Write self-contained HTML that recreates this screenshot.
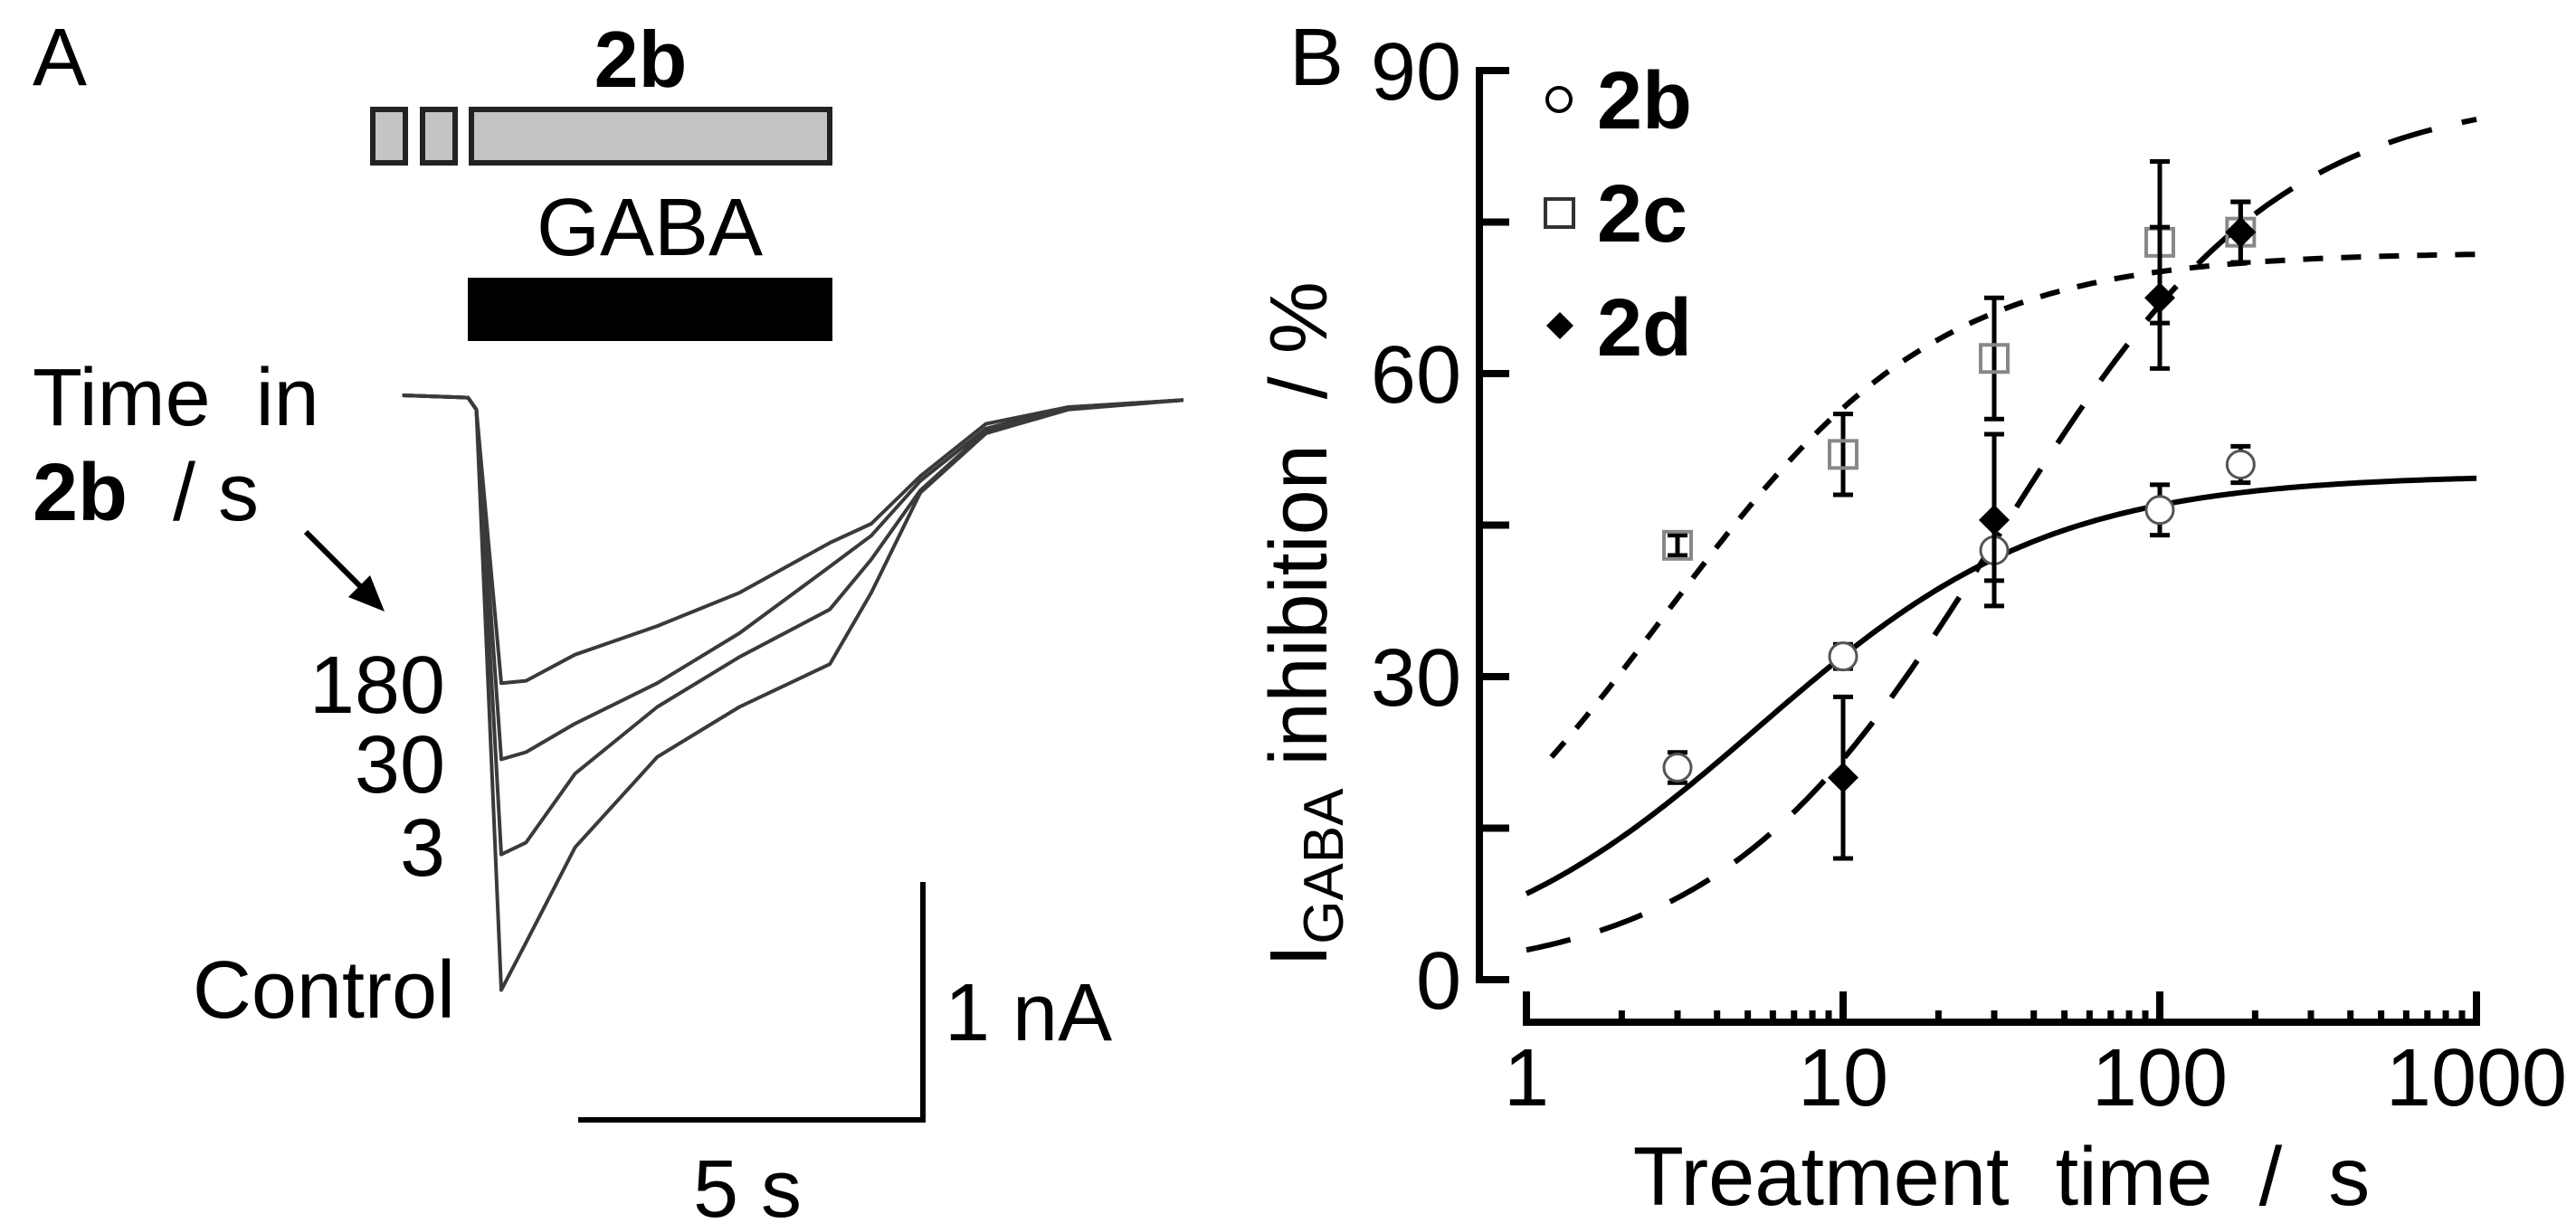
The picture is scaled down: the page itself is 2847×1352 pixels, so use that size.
<!DOCTYPE html>
<html><head><meta charset="utf-8"><style>
html,body{margin:0;padding:0;background:#fff;}
svg{display:block;font-family:"Liberation Sans",Arial,sans-serif;}
</style></head><body>
<svg id="fig" width="2847" height="1352" viewBox="0 0 2847 1352" xmlns="http://www.w3.org/2000/svg">
<!-- Panel A -->
<g>
<text x="36" y="94" font-size="90">A</text>
<text x="708" y="96" font-size="88" font-weight="bold" text-anchor="middle">2b</text>
<rect x="412" y="121" width="36" height="59" fill="#c4c4c4" stroke="#222" stroke-width="6"/>
<rect x="467" y="121" width="36" height="59" fill="#c4c4c4" stroke="#222" stroke-width="6"/>
<rect x="521" y="121" width="396" height="59" fill="#c4c4c4" stroke="#222" stroke-width="6"/>
<text x="718" y="282" font-size="90" text-anchor="middle">GABA</text>
<rect x="517" y="307" width="403" height="70" fill="#000"/>
<text x="36" y="470" font-size="90">Time&#160;&#160;in</text>
<text x="36" y="575" font-size="90"><tspan font-weight="bold">2b</tspan>&#160;&#160;/&#160;s</text>
<line x1="338" y1="588" x2="410" y2="660" stroke="#000" stroke-width="6"/>
<polygon points="425,676 385,660 409,636" fill="#000"/>
<text x="492" y="788" font-size="90" text-anchor="end">180</text>
<text x="492" y="876" font-size="90" text-anchor="end">30</text>
<text x="492" y="968" font-size="90" text-anchor="end">3</text>
<text x="503" y="1125" font-size="90" text-anchor="end">Control</text>
<g id="traces"></g>
<polyline points="1020,975 1020,1238 639,1238" fill="none" stroke="#000" stroke-width="6"/>
<text x="1044" y="1150" font-size="90">1 nA</text>
<text x="826" y="1345" font-size="90" text-anchor="middle">5 s</text>
</g>
<!-- Panel B -->
<g>
<text x="1425" y="94" font-size="90">B</text>
<g id="axes"></g>
<g id="curves"></g>
<g id="points"></g>
<text transform="translate(1466,690) rotate(-90)" font-size="90" text-anchor="middle">I<tspan font-size="62" dy="18">GABA</tspan><tspan dy="-18">&#160;inhibition&#160;&#160;/&#160;%</tspan></text>
<text x="2212" y="1332" font-size="92" text-anchor="middle">Treatment&#160;&#160;time&#160;&#160;/&#160;&#160;s</text>
<g>
<circle cx="1723" cy="110" r="13" fill="#fff" stroke="#000" stroke-width="4"/>
<text x="1765" y="142" font-size="90" font-weight="bold">2b</text>
<rect x="1708" y="220" width="31" height="31" fill="#fff" stroke="#333" stroke-width="4"/>
<text x="1765" y="267" font-size="90" font-weight="bold">2c</text>
<polygon points="1724,345 1739,360 1724,375 1709,360" fill="#000"/>
<text x="1765" y="393" font-size="90" font-weight="bold">2d</text>
</g>
</g>
<script>
// ---- Panel A trace data (time s, current nA) ----
const traceTimes = [-0.12,0.83,0.95,1.31,1.67,2.38,3.57,4.76,6.07,6.67,7.38,8.33,9.52,11.19];
const traceControl = [0,-0.01,-0.06,-2.50,-2.30,-1.90,-1.52,-1.31,-1.13,-0.83,-0.41,-0.16,-0.06,-0.02];
const trace3 = [0,-0.01,-0.06,-1.93,-1.88,-1.59,-1.31,-1.10,-0.90,-0.69,-0.40,-0.15,-0.055,-0.02];
const trace30 = [0,-0.01,-0.06,-1.53,-1.50,-1.38,-1.21,-1.00,-0.72,-0.59,-0.36,-0.14,-0.05,-0.02];
const trace180 = [0,-0.01,-0.06,-1.21,-1.20,-1.09,-0.97,-0.83,-0.62,-0.54,-0.34,-0.12,-0.05,-0.02];
// ---- Panel B data ----
const xTickValues = [1,10,100,1000];
const xTickLabels = ["1","10","100","1000"];
const yTickValues = [0,15,30,45,60,75,90];
const yTickLabels = ["0","","30","","60","","90"];
const times2b = [3,10,30,100,180];
const mean2b = [21,32,42.5,46.5,51];
const err2b = [1.5,1.2,3,2.5,1.8];
const times2c = [3,10,30,100,180];
const mean2c = [43,52,61.5,73,74];
const err2c = [1,4,6,8,3];
const times2d = [10,30,100,180];
const mean2d = [20,45.5,67.5,74];
const err2d = [8,8.5,7,3];
const fitTop = [50,72,88];
const fitEC50 = [5.4,2.72,31];
const fitHill = [0.94,1.0,0.98];
const fitStart = [1,1.2,1];

const NS="http://www.w3.org/2000/svg";
function mk(tag,attrs,parent){const e=document.createElementNS(NS,tag);for(const k in attrs)e.setAttribute(k,attrs[k]);parent.appendChild(e);return e;}
const tx=t=>454+t*76.3, ty=i=>437-i*263;
const tr=document.getElementById('traces');
[[traceControl,'trace-control'],[trace3,'trace-3s'],[trace30,'trace-30s'],[trace180,'trace-180s']].forEach(([arr,name])=>{
  const pts=traceTimes.map((t,i)=>tx(t).toFixed(1)+','+ty(arr[i]).toFixed(1)).join(' ');
  const p=mk('polyline',{points:pts,fill:'none',stroke:'#3a3a3a','stroke-width':4,'stroke-linejoin':'round'},tr);
  
  
});
const X0=1687, DEC=350, Y0=1083, YS=(1083-78)/90;
const sx=v=>X0+Math.log10(v)*DEC, sy=v=>Y0-v*YS;
const ax=document.getElementById('axes');
const yl=mk('line',{x1:1635,y1:sy(90),x2:1635,y2:Y0+4,stroke:'#000','stroke-width':8},ax);


yTickValues.forEach((v,i)=>{
  const t=mk('line',{x1:1631,y1:sy(v),x2:1668,y2:sy(v),stroke:'#000','stroke-width':8},ax);
  
  
  if(yTickLabels[i]){
    const l=mk('text',{x:1615,y:sy(v)+32,'font-size':90,'text-anchor':'end'},ax);l.textContent=yTickLabels[i];
    
    
  }
});
const xl=mk('line',{x1:sx(1)-4,y1:1130,x2:sx(1000)+4,y2:1130,stroke:'#000','stroke-width':8},ax);


xTickValues.forEach((v,i)=>{
  const t=mk('line',{x1:sx(v),y1:1130,x2:sx(v),y2:1096,stroke:'#000','stroke-width':8},ax);
  
  
  const l=mk('text',{x:sx(v),y:1222,'font-size':90,'text-anchor':'middle'},ax);l.textContent=xTickLabels[i];
  
  
  if(v<1000){for(let m=2;m<=9;m++){
    const mt=mk('line',{x1:sx(v*m),y1:1130,x2:sx(v*m),y2:1117,stroke:'#000','stroke-width':7},ax);
    
    
  }}
});
const cg=document.getElementById('curves');
const dashes=['none','22 20','50 34'];
const fnames=['fit-curve-2b','fit-curve-2c','fit-curve-2d'];
for(let k=0;k<3;k++){
  const pts=[];
  for(let j=0;j<=200;j++){
    const lt=Math.log10(fitStart[k])+(3-Math.log10(fitStart[k]))*j/200, t=Math.pow(10,lt);
    const a=Math.pow(t,fitHill[k]), b=Math.pow(fitEC50[k],fitHill[k]);
    pts.push(sx(t).toFixed(1)+','+sy(fitTop[k]*a/(a+b)).toFixed(1));
  }
  const p=mk('polyline',{points:pts.join(' '),fill:'none',stroke:'#000','stroke-width':6,'stroke-dasharray':dashes[k]},cg);
  
  
}
const pg=document.getElementById('points');
function errbar(x,m,e){
  const g=mk('g',{},pg);
  
  
  mk('line',{x1:x,y1:sy(m+e),x2:x,y2:sy(m-e),stroke:'#000','stroke-width':5},g);
  mk('line',{x1:x-11,y1:sy(m+e),x2:x+11,y2:sy(m+e),stroke:'#000','stroke-width':5},g);
  mk('line',{x1:x-11,y1:sy(m-e),x2:x+11,y2:sy(m-e),stroke:'#000','stroke-width':5},g);
}
times2c.forEach((t,i)=>{errbar(sx(t),mean2c[i],err2c[i]);
  const r=mk('rect',{x:sx(t)-15,y:sy(mean2c[i])-15,width:30,height:30,fill:'none',stroke:'#888','stroke-width':4},pg);
  
  
});
times2b.forEach((t,i)=>{errbar(sx(t),mean2b[i],err2b[i]);
  const c=mk('circle',{cx:sx(t),cy:sy(mean2b[i]),r:15,fill:'#fff',stroke:'#555','stroke-width':3},pg);
  
  
});
times2d.forEach((t,i)=>{errbar(sx(t),mean2d[i],err2d[i]);
  const x=sx(t),y=sy(mean2d[i]);
  const d=mk('polygon',{points:`${x},${y-17} ${x+17},${y} ${x},${y+17} ${x-17},${y}`,fill:'#000'},pg);
  
  
});
</script>
</svg>
</body></html>
